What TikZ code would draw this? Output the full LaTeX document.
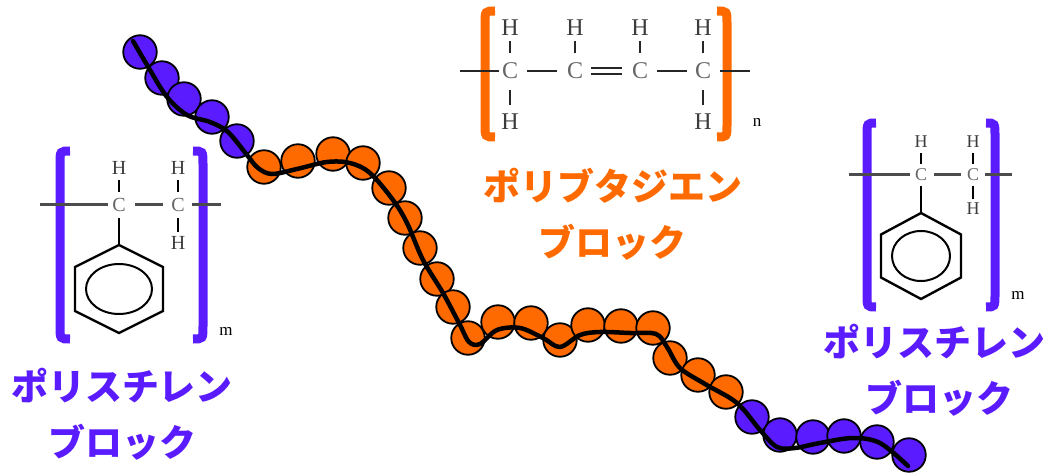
\documentclass[tikz,border=0pt]{standalone}
\usepackage{fontspec}
\setmainfont{Liberation Serif}
\newfontfamily\jpfont{Noto Sans CJK JP Black}
\definecolor{psblue}{HTML}{5A1CFF}
\definecolor{pborange}{HTML}{FF6A00}
\definecolor{atomgray}{HTML}{666666}
\definecolor{hgray}{HTML}{3C3C3C}
\begin{document}
\begin{tikzpicture}[x=1pt,y=-1pt,
  bead/.style={circle,draw=black,line width=1.8pt,minimum size=33.5pt,inner sep=0pt},
  psbead/.style={bead,fill=psblue},
  pbbead/.style={bead,fill=pborange},
  chain/.style={line width=4.5pt,line cap=round,line join=round},
  bracket/.style={line width=9pt},
  bond/.style={line width=2.4pt},
  backbone/.style={line width=3pt,draw=black!70},
  ring/.style={line width=2.4pt,line join=miter},
  atomL/.style={inner sep=0pt,font=\fontsize{20}{20}\selectfont},
  atomR/.style={inner sep=0pt,font=\fontsize{18}{18}\selectfont},
  atomB/.style={inner sep=0pt,font=\fontsize{24}{24}\selectfont},
  label/.style={inner sep=0pt,font=\jpfont\fontsize{37}{37}\selectfont},
  idx/.style={inner sep=0pt,font=\fontsize{17}{17}\selectfont}
]
\useasboundingbox (0,0) rectangle (1047,473);

% ---------------- bead chain ----------------
\foreach \x/\y [count=\i] in {140/52,162/78,184/99,212/117,237/141}
  \node[psbead] (s\i) at (\x,\y) {};
\foreach \x/\y [count=\i] in {264/167,298/161,333/154,363/163,389/188,405/218,
  420/248,437/279,453/307,468/338,498/322,531/323,560/340,588/325,621/326,
  653/328,670/358,698/375,726/392}
  \node[pbbead] (b\i) at (\x,\y) {};
\foreach \x/\y [count=\i] in {752/417,780/435,813/437,844/436,877/442,909/455}
  \node[psbead] (e\i) at (\x,\y) {};

\draw[chain] plot[smooth,tension=0.55] coordinates {
  (133,41) (150,70) (167,97) (187,115) (210,122) (228,132) (247,155)
  (258,168) (272,174) (297,169) (327,162) (350,163) (370,173) (393,200)
  (407,223) (423,260) (443,293) (460,325) (469,342) (480,344) (497,330)
  (520,328) (543,338) (560,347) (580,335) (600,332) (630,333) (656,334)
  (667,347) (680,368) (705,384) (737,403) (760,430) (777,447) (795,448)
  (820,443) (853,438) (880,443) (908,466)};

% ---------------- left polystyrene unit ----------------
\draw[bracket,psblue] (70,151) .. controls (60,151) .. (60,164) -- (60,326) .. controls (60,339) .. (70,339);
\draw[bracket,psblue] (193,151) .. controls (203,151) .. (203,164) -- (203,326) .. controls (203,339) .. (193,339);
\node[atomL,text=atomgray] (lc1) at (119,205) {C};
\node[atomL,text=atomgray] (lc2) at (178,205) {C};
\node[atomL,text=hgray] (lh1) at (119,168) {H};
\node[atomL,text=hgray] (lh2) at (178,168) {H};
\node[atomL,text=hgray] (lh3) at (178,243) {H};
\coordinate (lend1) at (40,205);
\coordinate (lend2) at (221,205);
\draw[backbone,shorten >=11pt] (lend1) -- (lc1.center);
\draw[backbone,shorten <=16pt,shorten >=15pt] (lc1.center) -- (lc2.center);
\draw[backbone,shorten <=14pt] (lc2.center) -- (lend2);
\draw[bond,shorten <=13pt,shorten >=12pt] (lc1.center) -- (lh1.center);
\draw[bond,shorten <=13pt,shorten >=12pt] (lc2.center) -- (lh2.center);
\draw[bond,shorten <=13pt,shorten >=11pt] (lc2.center) -- (lh3.center);
\coordinate (lring) at (119,289);
\draw[bond,shorten <=13pt] (lc1.center) -- (119,245);
\draw[ring] (119,245) -- (163,267) -- (163,311) -- (119,333) -- (75,311) -- (75,267) -- cycle;
\draw[line width=2pt] (lring) ellipse [x radius=33, y radius=25];
\node[idx] (lm) at (226,331) {m};

% ---------------- polybutadiene unit ----------------
\draw[bracket,pborange] (495,11) .. controls (485,11) .. (485,24) -- (485,124) .. controls (485,137) .. (495,137);
\draw[bracket,pborange] (717,11) .. controls (727,11) .. (727,24) -- (727,124) .. controls (727,137) .. (717,137);
\node[atomB,text=atomgray] (bc1) at (510,71) {C};
\node[atomB,text=atomgray] (bc2) at (575,71) {C};
\node[atomB,text=atomgray] (bc3) at (640,71) {C};
\node[atomB,text=atomgray] (bc4) at (703,71) {C};
\foreach \n/\x in {1/510,2/575,3/640,4/703}
  \node[atomB,text=hgray] (bh\n) at (\x,28) {H};
\node[atomB,text=hgray] (bh5) at (510,122) {H};
\node[atomB,text=hgray] (bh6) at (703,122) {H};
\coordinate (bend1) at (460,71);
\coordinate (bend2) at (750,71);
\draw[bond,black!85,shorten >=11pt] (bend1) -- (bc1.center);
\draw[bond,black!85,shorten <=17pt,shorten >=18pt] (bc1.center) -- (bc2.center);
\draw[bond,black!85,shorten <=16pt,shorten >=18pt,transform canvas={yshift=3pt}] (bc2.center) -- (bc3.center);
\draw[bond,black!85,shorten <=16pt,shorten >=18pt,transform canvas={yshift=-3pt}] (bc2.center) -- (bc3.center);
\draw[bond,black!85,shorten <=17pt,shorten >=16pt] (bc3.center) -- (bc4.center);
\draw[bond,black!85,shorten <=17pt] (bc4.center) -- (bend2);
\foreach \n in {1,2,3,4}
  \draw[bond,black!85,shorten <=18pt,shorten >=13pt] (bc\n.center) -- (bh\n.center);
\draw[bond,black!85,shorten <=19pt,shorten >=17pt] (bc1.center) -- (bh5.center);
\draw[bond,black!85,shorten <=19pt,shorten >=17pt] (bc4.center) -- (bh6.center);
\node[idx] (bn) at (757,122) {n};

% ---------------- right polystyrene unit ----------------
\draw[bracket,psblue] (876,123) .. controls (867,123) .. (867,136) -- (867,294) .. controls (867,307) .. (876,307);
\draw[bracket,psblue] (986,123) .. controls (995,123) .. (995,136) -- (995,294) .. controls (995,307) .. (986,307);
\node[atomR,text=atomgray] (rc1) at (921,175) {C};
\node[atomR,text=atomgray] (rc2) at (973,175) {C};
\node[atomR,text=hgray] (rh1) at (921,142) {H};
\node[atomR,text=hgray] (rh2) at (973,142) {H};
\node[atomR,text=hgray] (rh3) at (973,209) {H};
\coordinate (rend1) at (849,175);
\coordinate (rend2) at (1012,175);
\draw[backbone,shorten >=11pt] (rend1) -- (rc1.center);
\draw[backbone,shorten <=13pt,shorten >=12pt] (rc1.center) -- (rc2.center);
\draw[backbone,shorten <=12pt] (rc2.center) -- (rend2);
\draw[bond,shorten <=11pt,shorten >=11pt] (rc1.center) -- (rh1.center);
\draw[bond,shorten <=11pt,shorten >=11pt] (rc2.center) -- (rh2.center);
\draw[bond,shorten <=11pt,shorten >=10pt] (rc2.center) -- (rh3.center);
\coordinate (rring) at (921,256);
\draw[bond,shorten <=11pt] (rc1.center) -- (921,213);
\draw[ring] (921,213) -- (961,234.5) -- (961,277.5) -- (921,299) -- (881,277.5) -- (881,234.5) -- cycle;
\draw[line width=2pt] (rring) ellipse [x radius=29, y radius=25];
\node[idx] (rm) at (1018,295) {m};

% ---------------- block labels ----------------
\node[label,text=psblue] (lt1) at (122,386) {ポリスチレン};
\node[label,text=psblue] (lt2) at (122,442) {ブロック};
\node[label,text=pborange] (bt1) at (613,186) {ポリブタジエン};
\node[label,text=pborange] (bt2) at (612,242) {ブロック};
\node[label,text=psblue] (rt1) at (934,342) {ポリスチレン};
\node[label,text=psblue] (rt2) at (939,398) {ブロック};
\end{tikzpicture}
\end{document}
